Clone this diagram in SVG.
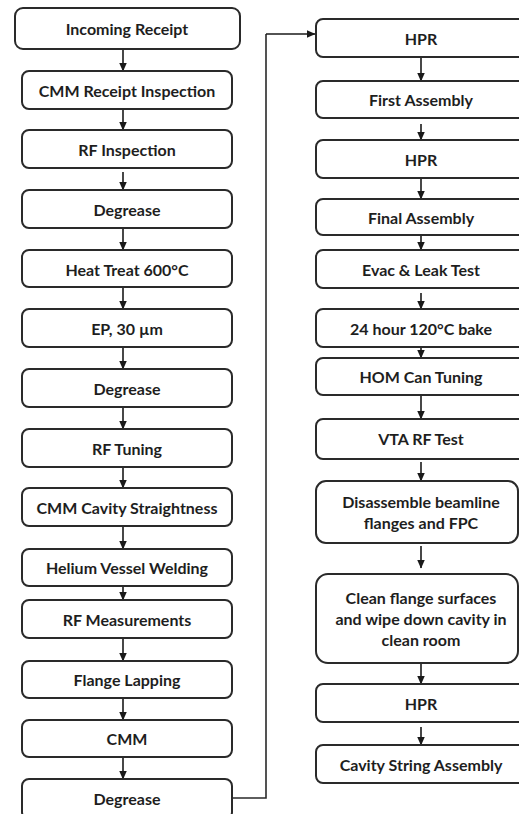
<svg xmlns="http://www.w3.org/2000/svg" width="519" height="814" viewBox="0 0 519 814">
<defs>
<marker id="ah" markerWidth="9" markerHeight="8" refX="8.5" refY="4" orient="auto" markerUnits="userSpaceOnUse">
<path d="M0,0 L9,4 L0,8 Z" fill="#1a1a1a"/>
</marker>
<style>
.box{fill:#fff;stroke:#2a2a2a;stroke-width:2}
.t{font-family:Lato,"Liberation Sans",sans-serif;font-weight:700;font-size:16px;fill:#1e1e1e;text-anchor:middle;dominant-baseline:central}
.c{fill:none;stroke:#1a1a1a;stroke-width:1.6;marker-end:url(#ah)}
.l{fill:none;stroke:#2a2a2a;stroke-width:1.6}
</style>
</defs>
<rect width="519" height="814" fill="#fff"/>
<g id="connectors">
<path class="c" d="M123,49 V71"/>
<path class="c" d="M123,109 V130"/>
<path class="c" d="M123,172 V190"/>
<path class="c" d="M123,228 V250"/>
<path class="c" d="M123,287 V309"/>
<path class="c" d="M123,347 V369"/>
<path class="c" d="M123,407 V429"/>
<path class="c" d="M123,466 V488"/>
<path class="c" d="M123,526 V549"/>
<path class="c" d="M123,578 V600"/>
<path class="c" d="M123,634 V661"/>
<path class="c" d="M123,698 V720"/>
<path class="c" d="M123,757 V779"/>
<path class="l" d="M224,798 H266 V34"/>
<path class="c" d="M266,34 H315"/>
<path class="c" d="M421,57 V81"/>
<path class="c" d="M421,124 V140"/>
<path class="c" d="M421,178 V199"/>
<path class="c" d="M421,228 V250"/>
<path class="c" d="M421,293 V309"/>
<path class="c" d="M421,338 V358"/>
<path class="c" d="M421,395 V419"/>
<path class="c" d="M421,462 V481"/>
<path class="c" d="M421,546 V568"/>
<path class="c" d="M421,663 V684"/>
<path class="c" d="M421,727 V745"/>
</g>
<g id="n1"><rect class="box" x="15" y="8" width="225" height="41" rx="8"/><text class="t" x="127" y="28">Incoming Receipt</text></g>
<g id="n2"><rect class="box" x="22" y="71" width="210" height="38" rx="7"/><text class="t" x="127" y="90">CMM Receipt Inspection</text></g>
<g id="n3"><rect class="box" x="22" y="130" width="210" height="38" rx="7"/><text class="t" x="127" y="149">RF Inspection</text></g>
<g id="n4"><rect class="box" x="22" y="190" width="210" height="38" rx="7"/><text class="t" x="127" y="209">Degrease</text></g>
<g id="n5"><rect class="box" x="22" y="250" width="210" height="37" rx="7"/><text class="t" x="127" y="269">Heat Treat 600°C</text></g>
<g id="n6"><rect class="box" x="22" y="309" width="210" height="38" rx="7"/><text class="t" x="127" y="328">EP, 30 µm</text></g>
<g id="n7"><rect class="box" x="22" y="369" width="210" height="38" rx="7"/><text class="t" x="127" y="388">Degrease</text></g>
<g id="n8"><rect class="box" x="22" y="429" width="210" height="38" rx="7"/><text class="t" x="127" y="448">RF Tuning</text></g>
<g id="n9"><rect class="box" x="22" y="488" width="210" height="38" rx="7"/><text class="t" x="127" y="507">CMM Cavity Straightness</text></g>
<g id="n10"><rect class="box" x="22" y="549" width="210" height="37" rx="7"/><text class="t" x="127" y="567">Helium Vessel Welding</text></g>
<g id="n11"><rect class="box" x="22" y="600" width="210" height="38" rx="7"/><text class="t" x="127" y="619">RF Measurements</text></g>
<g id="n12"><rect class="box" x="22" y="661" width="210" height="37" rx="7"/><text class="t" x="127" y="679">Flange Lapping</text></g>
<g id="n13"><rect class="box" x="22" y="720" width="210" height="37" rx="7"/><text class="t" x="127" y="738">CMM</text></g>
<g id="n14"><rect class="box" x="22" y="779" width="210" height="40" rx="7"/><text class="t" x="127" y="798">Degrease</text></g>
<g id="n15"><rect class="box" x="316" y="19" width="212" height="38" rx="7"/><text class="t" x="421" y="38">HPR</text></g>
<g id="n16"><rect class="box" x="316" y="81" width="212" height="37" rx="7"/><text class="t" x="421" y="99">First Assembly</text></g>
<g id="n17"><rect class="box" x="316" y="140" width="212" height="38" rx="7"/><text class="t" x="421" y="159">HPR</text></g>
<g id="n18"><rect class="box" x="316" y="199" width="212" height="36" rx="7"/><text class="t" x="421" y="217">Final Assembly</text></g>
<g id="n19"><rect class="box" x="316" y="250" width="212" height="38" rx="7"/><text class="t" x="421" y="269">Evac &amp; Leak Test</text></g>
<g id="n20"><rect class="box" x="316" y="309" width="212" height="38" rx="7"/><text class="t" x="421" y="328">24 hour 120°C bake</text></g>
<g id="n21"><rect class="box" x="316" y="358" width="212" height="37" rx="7"/><text class="t" x="421" y="376">HOM Can Tuning</text></g>
<g id="n22"><rect class="box" x="316" y="419" width="212" height="40" rx="7"/><text class="t" x="421" y="438">VTA RF Test</text></g>
<g id="n23"><rect class="box" x="316" y="481" width="202" height="62" rx="10"/><text class="t" x="421" y="501">Disassemble beamline</text><text class="t" x="421" y="522">flanges and FPC</text></g>
<g id="n24"><rect class="box" x="316" y="574" width="202" height="89" rx="12"/><text class="t" x="421" y="597">Clean flange surfaces</text><text class="t" x="421" y="618">and wipe down cavity in</text><text class="t" x="421" y="639">clean room</text></g>
<g id="n25"><rect class="box" x="316" y="684" width="212" height="38" rx="7"/><text class="t" x="421" y="703">HPR</text></g>
<g id="n26"><rect class="box" x="316" y="745" width="212" height="38" rx="7"/><text class="t" x="421" y="764">Cavity String Assembly</text></g>
</svg>
